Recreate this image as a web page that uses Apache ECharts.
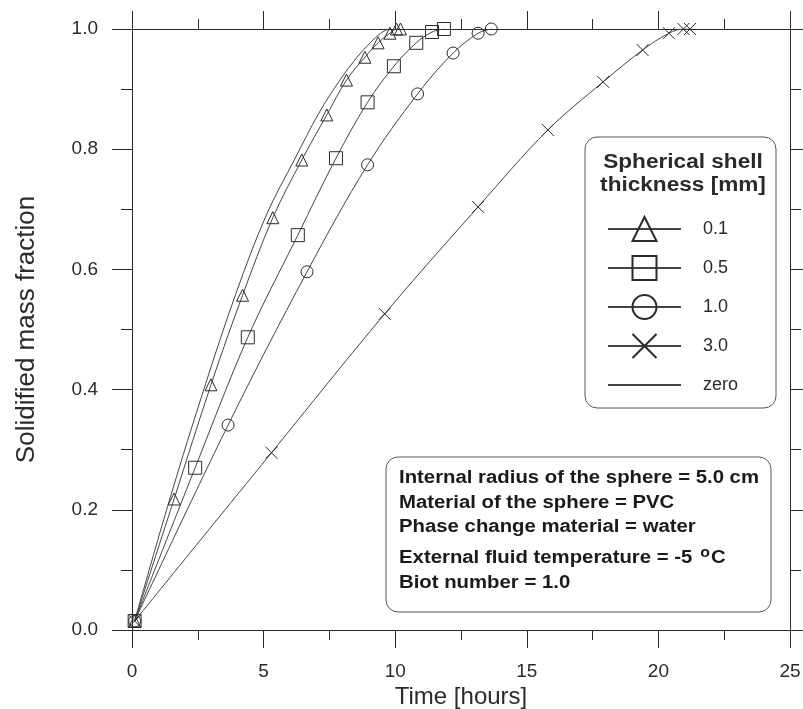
<!DOCTYPE html>
<html>
<head>
<meta charset="utf-8">
<script src="https://cdn.jsdelivr.net/npm/echarts@6/dist/echarts.min.js"></script>
<style>
  html, body { margin: 0; padding: 0; background: #fff; }
  #chart { width: 803px; height: 709px; }
</style>
</head>
<body>
<div id="chart"></div>
<script>
// values
const triTime = [0.1, 1.6, 3.0, 4.2, 5.35, 6.45, 7.4, 8.15, 8.85, 9.35, 9.8, 10.05, 10.2];
const triFrac = [0.015, 0.218, 0.408, 0.557, 0.686, 0.782, 0.857, 0.915, 0.953, 0.977, 0.993, 1.0, 1.0];
const sqTime = [0.1, 2.4, 4.4, 6.3, 7.75, 8.95, 9.95, 10.8, 11.4, 11.85];
const sqFrac = [0.015, 0.27, 0.487, 0.657, 0.785, 0.878, 0.938, 0.977, 0.995, 1.0];
const circTime = [0.1, 3.65, 6.65, 8.95, 10.85, 12.2, 13.15, 13.65];
const circFrac = [0.015, 0.341, 0.596, 0.774, 0.892, 0.96, 0.993, 1.0];
const crossTime = [0.1, 5.3, 9.6, 13.15, 15.8, 17.9, 19.4, 20.4, 20.95, 21.2];
const crossFrac = [0.015, 0.295, 0.526, 0.704, 0.832, 0.912, 0.965, 0.993, 1.0, 1.0];
const zeroTime = [0.1, 1.45, 2.8, 3.95, 5.1, 6.2, 7.1, 7.9, 8.55, 9.05, 9.45, 9.75];
const zeroFrac = [0.015, 0.22, 0.41, 0.56, 0.69, 0.785, 0.86, 0.915, 0.953, 0.977, 0.993, 1.0];

const legendNames = ['0.1', '0.5', '1.0', '3.0', 'zero'];
const noteLines = [
  'Internal radius of the sphere = 5.0 cm',
  'Material of the sphere = PVC',
  'Phase change material = water',
  'External fluid temperature = -5 {sup|o}C',
  'Biot number = 1.0',
];
const noteY = [478, 503, 527, 558, 583];

const FONT = '"Liberation Sans", Arial, sans-serif';
const INK = '#2a2a2a';
const CLEAR = 'rgba(255,255,255,0)';
const CROSS = 'path://M0,0L10,10M10,0L0,10';

function pairs(xs, ys) {
  return xs.map((x, i) => [x, ys[i]]);
}

function makeSeries(name, xs, ys, symbol, size) {
  return {
    name: name,
    type: 'line',
    data: pairs(xs, ys),
    smooth: 0.35,
    symbol: symbol,
    symbolSize: size,
    showSymbol: symbol !== 'none',
    lineStyle: { color: '#444', width: 1 },
    itemStyle: {
      color: CLEAR,
      borderColor: INK,
      borderWidth: 1,
    },
    emphasis: { disabled: true },
    z: 3,
  };
}

const series = [
  makeSeries('0.1', triTime, triFrac, 'triangle', 12),
  makeSeries('0.5', sqTime, sqFrac, 'rect', 13),
  makeSeries('1.0', circTime, circFrac, 'circle', 12),
  makeSeries('3.0', crossTime, crossFrac, CROSS, 12),
  makeSeries('zero', zeroTime, zeroFrac, 'none', 0),
];

const tickStyle = { color: INK, width: 1 };

const xBase = {
  type: 'value',
  min: 0,
  max: 25,
  interval: 5,
  axisLine: { show: true, onZero: false, lineStyle: tickStyle },
  axisTick: { show: true, inside: false, length: 18, lineStyle: tickStyle },
  minorTick: { show: true, splitNumber: 2, length: 10, lineStyle: tickStyle },
  splitLine: { show: false },
};
const yBase = {
  type: 'value',
  min: 0,
  max: 1,
  interval: 0.2,
  axisLine: { show: true, onZero: false, lineStyle: tickStyle },
  axisTick: { show: true, inside: false, length: 20, lineStyle: tickStyle },
  minorTick: { show: true, splitNumber: 2, length: 11, lineStyle: tickStyle },
  splitLine: { show: false },
};

const noteGraphics = noteLines.map((line, i) => ({
  type: 'text',
  x: 399,
  y: noteY[i],
  scaleX: 1.13,
  style: {
    text: line,
    font: 'bold 18px ' + FONT,
    fill: '#1a1a1a',
    verticalAlign: 'middle',
    rich: {
      sup: { fontSize: 14, fontWeight: 'bold', verticalAlign: 'top', padding: [0, 1, 9, 2] },
    },
  },
  z: 6,
}));

// legend entries; the plain "zero" curve gets no marker
const legendData = legendNames.map(n => (n === 'zero'
  ? { name: n, itemStyle: { color: CLEAR, borderColor: CLEAR } }
  : { name: n }));

const option = {
  animation: false,
  backgroundColor: '#fff',
  textStyle: { fontFamily: FONT },
  grid: {
    left: 132, right: 13, top: 29, bottom: 79,
    containLabel: false,
    outerBoundsMode: 'none',
  },
  xAxis: [
    Object.assign({}, xBase, {
      position: 'bottom',
      name: 'Time [hours]',
      nameLocation: 'middle',
      nameGap: 55,
      nameMoveOverlap: false,
      nameTextStyle: { fontSize: 24, color: INK, fontFamily: FONT },
      axisLabel: { show: true, margin: 32, fontSize: 19, color: INK, fontFamily: FONT },
    }),
    Object.assign({}, xBase, {
      position: 'top',
      axisLabel: { show: false },
    }),
  ],
  yAxis: [
    Object.assign({}, yBase, {
      position: 'left',
      name: 'Solidified mass fraction',
      nameLocation: 'middle',
      nameGap: 92,
      nameTextStyle: { fontSize: 26, color: INK, fontFamily: FONT },
      axisLabel: {
        show: true,
        margin: 34,
        fontSize: 19,
        color: INK,
        fontFamily: FONT,
        formatter: v => v.toFixed(1),
      },
    }),
    Object.assign({}, yBase, {
      position: 'right',
      axisLabel: { show: false },
    }),
  ],
  legend: {
    data: legendData,
    orient: 'vertical',
    left: 602,
    top: 211,
    itemWidth: 73,
    itemHeight: 30,
    itemGap: 13,
    selectedMode: false,
    z: 10,
    textStyle: {
      fontSize: 18,
      color: INK,
      fontFamily: FONT,
      padding: [0, 0, 0, 17],
    },
  },
  graphic: [
    {
      type: 'rect',
      shape: { x: 585, y: 137, width: 191, height: 271, r: 12 },
      style: { fill: '#fff', stroke: '#555', lineWidth: 1 },
      z: 1,
    },
    {
      type: 'text',
      x: 683,
      y: 174,
      scaleX: 1.13,
      style: {
        text: 'Spherical shell\nthickness [mm]',
        font: 'bold 20px ' + FONT,
        fill: INK,
        align: 'center',
        verticalAlign: 'middle',
        lineHeight: 23,
      },
      z: 6,
    },
    {
      type: 'rect',
      shape: { x: 386, y: 457, width: 385, height: 155, r: 12 },
      style: { fill: '#fff', stroke: '#555', lineWidth: 1 },
      z: 1,
    },
  ].concat(noteGraphics),
  series,
};

const chart = echarts.init(document.getElementById('chart'), null, { renderer: 'canvas' });
chart.setOption(option);
</script>
</body>
</html>
